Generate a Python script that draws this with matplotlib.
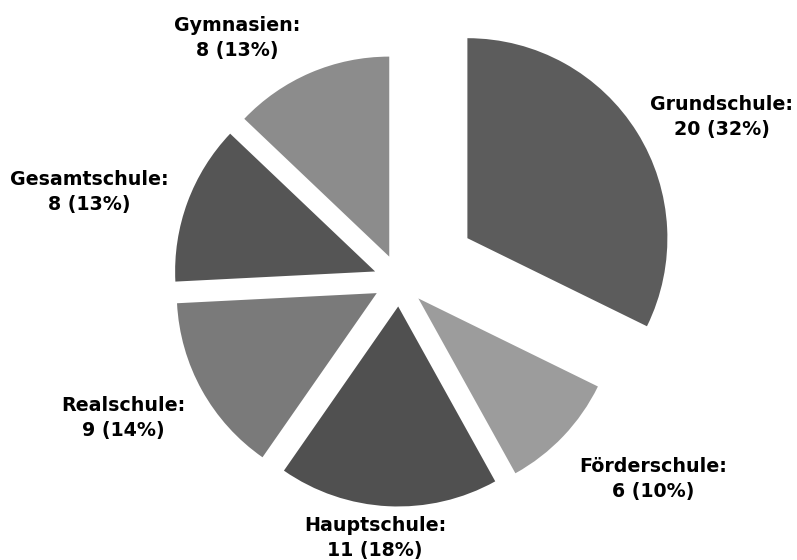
import matplotlib.pyplot as plt

# Daten
schulformen = ['Grundschule', 'Förderschule', 'Hauptschule', 'Realschule', 'Gesamtschule', 'Gymnasien']
anzahl = [20, 6, 11, 9, 8, 8]
prozent = [32, 10, 18, 14, 13, 13]
farben = ['#5c5c5c', '#9c9c9c', '#505050', '#7a7a7a', '#555555', '#8c8c8c']
explode = [0.40, 0.13, 0.13, 0.13, 0.13, 0.13]

# Label-Positionen (Pixel im Bild, oben links = 0,0)
label_px = [(722, 117), (653, 479), (375, 538), (123, 418), (89, 192), (237, 38)]

W, H = 797, 560
cx, cy, r_px = 399.5, 280.5, 200.0

fig = plt.figure(figsize=(W / 100, H / 100), dpi=100)
ax = fig.add_axes([0, 0, 1, 1])

ax.pie(anzahl, colors=farben, explode=explode, startangle=90, counterclock=False,
       radius=1.0, wedgeprops=dict(linewidth=0))

for name, n, p, (px, py) in zip(schulformen, anzahl, prozent, label_px):
    x = (px - cx) / r_px
    y = (cy - py) / r_px
    ax.text(x, y, f'{name}:\n{n} ({p}%)', ha='center', va='center',
            fontsize=13.7, fontweight='bold', family='DejaVu Sans',
            linespacing=1.35, color='black')

ax.set_xlim(-cx / r_px, (W - cx) / r_px)
ax.set_ylim((cy - H) / r_px, cy / r_px)
ax.set_aspect('auto')
ax.axis('off')

plt.savefig('out.png', dpi=100, facecolor='white')
